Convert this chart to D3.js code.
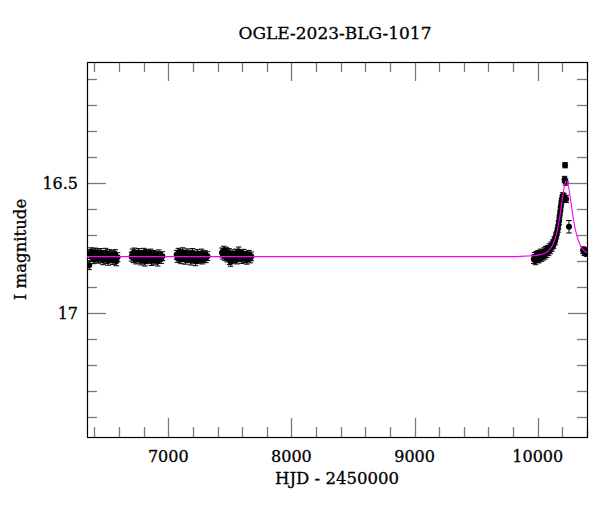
<!DOCTYPE html>
<html>
<head>
<meta charset="utf-8">
<script src="https://cdn.jsdelivr.net/npm/d3@7"></script>
<style>
  html, body { margin: 0; padding: 0; background: #fff; }
  svg { display: block; }
  text { font-family: "DejaVu Serif", serif; fill: #000; stroke: #000; stroke-width: 0.3px; }
</style>
</head>
<body>
<svg id="chart" width="600" height="512"></svg>
<script>
// ---------- data ----------
const title = "OGLE-2023-BLG-1017";
const xLabel = "HJD - 2450000";
const yLabel = "I magnitude";
const xTickLabels = [7000, 8000, 9000, 10000];
const yTickLabels = [16.5, 17];

// observation seasons: times (HJD-2450000), I magnitudes, errors
const s1T = [6358,6366,6373,6379,6385,6392,6398,6404,6411,6418,6424,6431,6437,6444,6450,6457,6463,6470,6477,6484,6491,6498,6505,6512,6520,6528,6535,6543,6551,6560,6569,6578,6588];
const s1M = [16.815,16.772,16.765,16.783,16.770,16.792,16.775,16.766,16.786,16.778,16.769,16.790,16.774,16.781,16.768,16.788,16.779,16.796,16.775,16.783,16.767,16.791,16.779,16.798,16.772,16.782,16.789,16.776,16.795,16.780,16.772,16.800,16.784];
const s2T = [6702,6710,6717,6724,6731,6738,6745,6752,6759,6766,6773,6780,6787,6795,6802,6810,6817,6825,6833,6840,6848,6856,6864,6872,6880,6888,6896,6905,6914,6923,6932,6942,6952];
const s2M = [16.782,16.770,16.788,16.766,16.778,16.793,16.774,16.784,16.768,16.790,16.779,16.797,16.775,16.783,16.767,16.801,16.780,16.772,16.792,16.776,16.787,16.770,16.799,16.782,16.775,16.794,16.779,16.785,16.801,16.773,16.783,16.791,16.780];
const s3T = [7068,7075,7082,7089,7096,7103,7110,7117,7124,7131,7138,7145,7152,7160,7167,7175,7182,7190,7198,7205,7213,7221,7229,7237,7245,7253,7262,7270,7279,7288,7297,7306,7318];
const s3M = [16.775,16.787,16.767,16.782,16.772,16.792,16.779,16.765,16.784,16.775,16.794,16.778,16.769,16.788,16.780,16.774,16.797,16.782,16.768,16.790,16.778,16.800,16.783,16.772,16.792,16.779,16.787,16.770,16.793,16.782,16.776,16.788,16.780];
const s4T = [7436,7443,7450,7457,7464,7471,7478,7485,7492,7499,7506,7513,7520,7527,7534,7542,7549,7557,7565,7572,7580,7588,7596,7604,7612,7620,7628,7637,7646,7655,7664,7674];
const s4M = [16.766,16.774,16.759,16.779,16.769,16.763,16.785,16.775,16.768,16.795,16.802,16.782,16.773,16.790,16.779,16.787,16.770,16.793,16.777,16.762,16.784,16.775,16.791,16.780,16.771,16.788,16.779,16.794,16.783,16.775,16.789,16.781];
const s5T = [9968,9975,9982,9989,9996,10003,10010,10017,10024,10031,10038,10045,10052,10059,10066,10073,10080,10087,10094,10101,10108,10115,10122,10128,10134,10140,10146,10152,10158,10163,10168,10173,10178,10183,10188,10193,10198,10203,10208,10213,10218,10222,10226,10231,10254,10368,10378,10388,10397];
const s5M = [16.792,16.782,16.797,16.778,16.788,16.774,16.790,16.779,16.769,16.784,16.771,16.779,16.764,16.775,16.759,16.769,16.754,16.763,16.748,16.756,16.740,16.747,16.732,16.736,16.719,16.723,16.704,16.700,16.685,16.676,16.660,16.645,16.625,16.606,16.588,16.570,16.560,16.548,16.556,16.552,16.485,16.430,16.495,16.560,16.667,16.757,16.765,16.760,16.768];
const s5E = [0.016,0.016,0.016,0.016,0.016,0.016,0.016,0.016,0.016,0.016,0.016,0.016,0.016,0.016,0.016,0.016,0.015,0.015,0.015,0.015,0.014,0.014,0.014,0.014,0.013,0.013,0.013,0.013,0.013,0.013,0.013,0.013,0.012,0.012,0.012,0.012,0.012,0.012,0.012,0.012,0.012,0.010,0.012,0.014,0.024,0.013,0.013,0.013,0.013];
const baseErr = 0.017;

// model light curve
const modelT = [6340,9800,9900,9950,10000,10050,10100,10125,10150,10160,10175,10188,10200,10215,10225,10233,10241,10251,10266,10278,10291,10306,10316,10341,10366,10400];
const modelM = [16.782,16.782,16.780,16.779,16.776,16.771,16.753,16.733,16.698,16.678,16.641,16.599,16.560,16.514,16.4955,16.490,16.4955,16.514,16.560,16.599,16.641,16.678,16.698,16.733,16.753,16.767];

// ---------- build points ----------
const points = [];
[[s1T,s1M,null],[s2T,s2M,null],[s3T,s3M,null],[s4T,s4M,null],[s5T,s5M,s5E]].forEach(([T,M,E]) => {
  T.forEach((t,i) => points.push({t, m: M[i], e: E ? E[i] : baseErr}));
});
const model = modelT.map((t,i) => ({t, m: modelM[i]}));

// ---------- layout ----------
const svg = d3.select("#chart");
const L = 87, R = 587, T0 = 62, B = 437;
const x = d3.scaleLinear().domain([6340, 10400]).range([L, R]);
const y = d3.scaleLinear().domain([16.033, 17.476]).range([T0, B]);

const clipId = "plotclip";
svg.append("clipPath").attr("id", clipId)
  .append("rect").attr("x", L).attr("y", T0).attr("width", R-L).attr("height", B-T0);

const tickColor = "#7a7a7a";
const majLen = 19, minLen = 10;

// x ticks (bottom and top), minor every 200, major every 1000
const xMinor = d3.range(6400, 10401, 200);
const gTicks = svg.append("g").attr("stroke", tickColor).attr("stroke-width", 1.3);
xMinor.forEach(v => {
  const len = (v % 1000 === 0) ? majLen : minLen;
  const px = Math.round(x(v)) + 0.5;
  gTicks.append("line").attr("x1", px).attr("x2", px).attr("y1", B).attr("y2", B - len);
  gTicks.append("line").attr("x1", px).attr("x2", px).attr("y1", T0).attr("y2", T0 + len);
});
// y ticks (left and right), minor every 0.1, major every 0.5
const yMinor = d3.range(161, 175).map(v => v / 10);
yMinor.forEach(v => {
  const len = (Math.round(v * 10) % 5 === 0) ? majLen : minLen;
  const py = Math.round(y(v)) + 0.5;
  gTicks.append("line").attr("x1", L).attr("x2", L + len).attr("y1", py).attr("y2", py);
  gTicks.append("line").attr("x1", R).attr("x2", R - len).attr("y1", py).attr("y2", py);
});

// frame
svg.append("rect").attr("x", L + 0.5).attr("y", T0 + 0.5).attr("width", R - L).attr("height", B - T0)
  .attr("fill", "none").attr("stroke", "#000").attr("stroke-width", 1.2);

// tick labels
svg.append("g").selectAll("text").data(xTickLabels).join("text")
  .attr("x", d => x(d)).attr("y", 462).attr("text-anchor", "middle")
  .attr("font-size", 16).text(d => d);
svg.append("g").selectAll("text").data(yTickLabels).join("text")
  .attr("x", 78).attr("y", d => y(d)).attr("text-anchor", "end")
  .attr("dominant-baseline", "central")
  .attr("font-size", 16).text(d => d);

// axis titles
svg.append("text").attr("x", (L + R) / 2).attr("y", 484).attr("text-anchor", "middle")
  .attr("font-size", 16.5).text(xLabel);
svg.append("text").attr("transform", `translate(26,${(T0 + B) / 2}) rotate(-90)`)
  .attr("text-anchor", "middle").attr("font-size", 16.5).text(yLabel);
svg.append("text").attr("x", 335).attr("y", 39).attr("text-anchor", "middle")
  .attr("font-size", 17).text(title);

// data
const gData = svg.append("g").attr("clip-path", `url(#${clipId})`);
const eb = gData.append("g").attr("stroke", "#000").attr("stroke-width", 1);
points.forEach(p => {
  const px = x(p.t), y1 = y(p.m - p.e), y2 = y(p.m + p.e);
  eb.append("line").attr("x1", px).attr("x2", px).attr("y1", y1).attr("y2", y2);
  eb.append("line").attr("x1", px - 2.8).attr("x2", px + 2.8).attr("y1", y1).attr("y2", y1);
  eb.append("line").attr("x1", px - 2.8).attr("x2", px + 2.8).attr("y1", y2).attr("y2", y2);
});
gData.append("g").selectAll("circle").data(points).join("circle")
  .attr("cx", d => x(d.t)).attr("cy", d => y(d.m)).attr("r", 3).attr("fill", "#000");

// model
gData.append("path").datum(model)
  .attr("fill", "none").attr("stroke", "#ff00ff").attr("stroke-width", 1.1)
  .attr("d", d3.line().x(d => x(d.t)).y(d => y(d.m)).curve(d3.curveMonotoneX));
</script>
</body>
</html>
